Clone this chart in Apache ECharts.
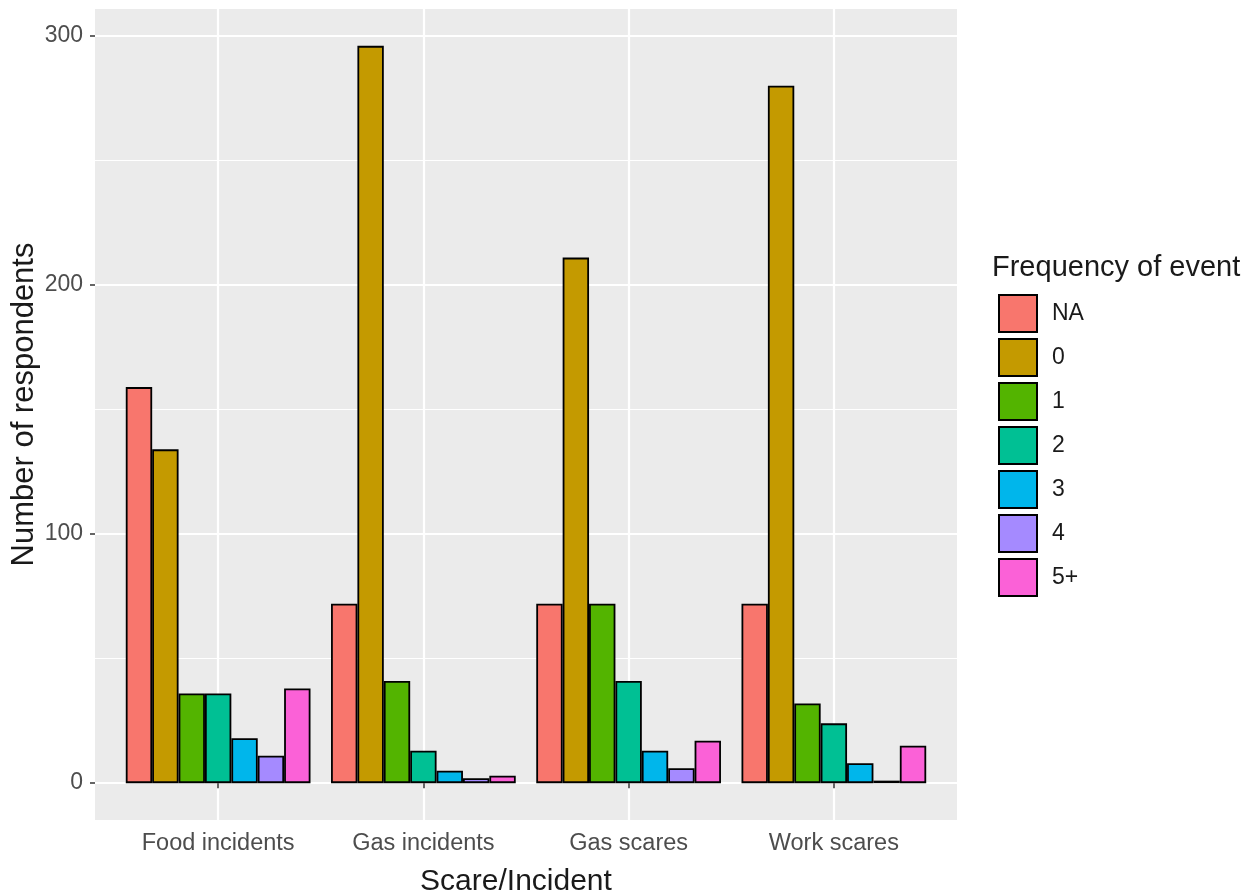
<!DOCTYPE html>
<html>
<head>
<meta charset="utf-8">
<script src="https://cdn.jsdelivr.net/npm/echarts@6/dist/echarts.min.js"></script>
<style>
html,body{margin:0;padding:0;background:#fff;}
#chart{width:1250px;height:895px;}
</style>
</head>
<body>
<div id="chart"></div>
<script>
// ---- data ----
const categories = ['Food incidents', 'Gas incidents', 'Gas scares', 'Work scares'];
const seriesNames = ['NA', '0', '1', '2', '3', '4', '5+'];
const valNA   = [159, 72, 72, 72];
const val0    = [134, 296, 211, 280];
const val1    = [36, 41, 72, 32];
const val2    = [36, 13, 41, 24];
const val3    = [18, 5, 13, 8];
const val4    = [11, 2, 6, 1];
const val5p   = [38, 3, 17, 15];
const yTicks = [0, 100, 200, 300];
const yMinor = [50, 150, 250];
const colors = ['#F8766D', '#C49A00', '#53B400', '#00C094', '#00B6EB', '#A58AFF', '#FB61D7'];

const allVals = [valNA, val0, val1, val2, val3, val4, val5p];
const catPos = categories.map((c, i) => i + 1);
const FONT = '"Liberation Sans", Arial, sans-serif';

const chart = echarts.init(document.getElementById('chart'), null, {renderer: 'canvas'});

const series = seriesNames.map((name, k) => ({
  name: name,
  type: 'bar',
  barGap: '0%',
  barCategoryGap: '10%',
  itemStyle: {color: colors[k], borderColor: '#000', borderWidth: 1.8},
  emphasis: {disabled: true},
  data: catPos.map((p, i) => [p, allVals[k][i]])
}));

chart.setOption({
  animation: false,
  backgroundColor: '#ffffff',
  textStyle: {fontFamily: FONT},
  title: {
    text: 'Frequency of event',
    left: 992,
    top: 253,
    padding: 0,
    textStyle: {fontFamily: FONT, fontSize: 29, fontWeight: 'normal', color: '#1a1a1a'}
  },
  legend: {
    orient: 'vertical',
    left: 998,
    top: 294,
    padding: 0,
    itemWidth: 38,
    itemHeight: 37,
    itemGap: 5,
    icon: 'rect',
    data: seriesNames,
    textStyle: {fontFamily: FONT, fontSize: 23, color: '#1a1a1a', padding: [0, 0, 0, 10]}
  },
  grid: {
    left: 95, right: 293, top: 9, bottom: 75,
    show: true, backgroundColor: '#EBEBEB', borderWidth: 0,
    containLabel: false,
    outerBoundsMode: 'none'
  },
  xAxis: {
    type: 'value',
    min: 0.4,
    max: 4.6,
    name: 'Scare/Incident',
    nameLocation: 'middle',
    nameGap: 47,
    nameTextStyle: {fontFamily: FONT, fontSize: 30, color: '#1a1a1a', padding: [0, 20, 0, 0]},
    axisLine: {show: false},
    axisTick: {show: true, length: 5, customValues: catPos, lineStyle: {color: '#333333', width: 1.5}},
    axisLabel: {
      customValues: catPos,
      margin: 12,
      fontFamily: FONT, fontSize: 23.5, color: '#4D4D4D',
      formatter: v => categories[Math.round(v) - 1] || ''
    },
    splitLine: {show: true, lineStyle: {color: '#ffffff', width: 2.2}}
  },
  yAxis: [{
    type: 'value',
    min: -14.8,
    max: 310.8,
    name: 'Number of respondents',
    nameLocation: 'middle',
    nameGap: 55,
    nameMoveOverlap: false,
    nameTextStyle: {fontFamily: FONT, fontSize: 31, color: '#1a1a1a', padding: [0, 0, 0, 20]},
    axisLine: {show: false},
    axisTick: {show: true, length: 5, customValues: yTicks, lineStyle: {color: '#333333', width: 1.5}},
    axisLabel: {customValues: yTicks, margin: 12, fontFamily: FONT, fontSize: 23, color: '#4D4D4D'},
    splitLine: {show: true, lineStyle: {color: '#ffffff', width: 2.2}}
  }, {
    type: 'value',
    position: 'left',
    min: -14.8,
    max: 310.8,
    axisLine: {show: false},
    axisTick: {show: false, customValues: yMinor},
    axisLabel: {show: false, customValues: yMinor},
    splitLine: {show: true, lineStyle: {color: '#ffffff', width: 1.1}}
  }],
  series: series
});
</script>
</body>
</html>
